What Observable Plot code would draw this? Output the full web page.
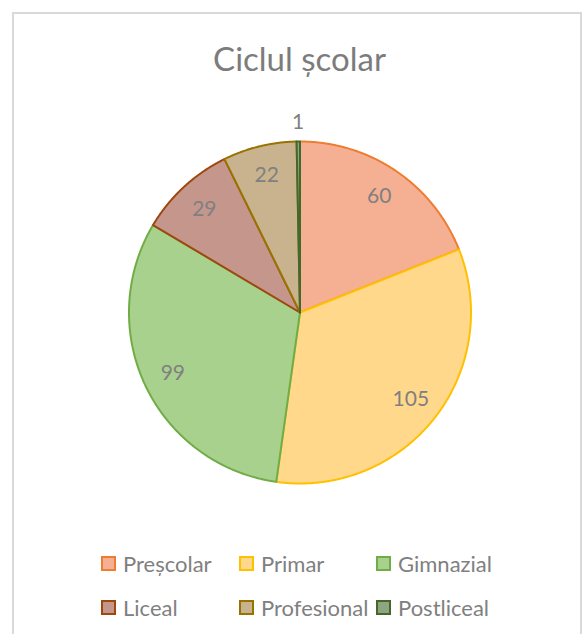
<!DOCTYPE html>
<html>
<head>
<meta charset="utf-8">
<script src="https://cdn.jsdelivr.net/npm/d3@7"></script>
<script src="https://cdn.jsdelivr.net/npm/@observablehq/plot@0.6"></script>
<style>
  html, body { margin: 0; padding: 0; background: #fff; }
  body { width: 583px; height: 634px; position: relative; overflow: hidden; font-family: Lato, "Open Sans", sans-serif; }
  #frame { position: absolute; left: 12px; top: 12px; width: 570px; height: 640px; border: 2px solid #d9d9d9; box-sizing: border-box; }
  #title { position: absolute; left: 0; width: 599px; top: 38px; text-align: center; font-size: 33px; color: #7c7c7c; }
  #chart { position: absolute; left: 0; top: 100px; }
  #legend { position: absolute; left: 0; top: 0; }
  .item { position: absolute; display: flex; align-items: center; font-size: 22px; color: #808080; white-space: nowrap; }
  .sw { width: 11px; height: 11px; border: 2px solid; margin-right: 7px; }
</style>
</head>
<body>
<div id="frame"></div>
<div id="title">Ciclul școlar</div>
<div id="chart"></div>
<div id="legend"></div>
<script>
const categories = ["Preșcolar", "Primar", "Gimnazial", "Liceal", "Profesional", "Postliceal"];
const values = [60, 105, 99, 29, 22, 1];
const fillColors = ["#F5AF93", "#FFD88C", "#A9D18E", "#C5968C", "#C9B38F", "#8FA580"];
const strokeColors = ["#ED7D31", "#FFC000", "#70AD47", "#9E480E", "#997300", "#43682B"];

const W = 583, H = 430;
const cx = 299.5, cy = 212; // pie centre in svg pixels
const R = 171;

const pie = d3.pie().sort(null).value(d => d.value)(
  categories.map((c, i) => ({category: c, value: values[i], fill: fillColors[i], stroke: strokeColors[i]}))
);

const pts = [];
pie.forEach(s => {
  const n = Math.max(2, Math.ceil((s.endAngle - s.startAngle) / 0.005));
  pts.push({category: s.data.category, fill: s.data.fill, stroke: s.data.stroke, x: 0, y: 0});
  for (let k = 0; k <= n; k++) {
    const a = s.startAngle + (s.endAngle - s.startAngle) * k / n;
    pts.push({category: s.data.category, fill: s.data.fill, stroke: s.data.stroke, x: R * Math.sin(a), y: R * Math.cos(a)});
  }
  pts.push({category: s.data.category, fill: s.data.fill, stroke: s.data.stroke, x: 0, y: 0});
});

const total = d3.sum(values);
const labels = pie.map(s => {
  const a = (s.startAngle + s.endAngle) / 2;
  const r = s.data.value / total < 0.02 ? R + 19 : 141;
  return {text: String(s.data.value), x: r * Math.sin(a), y: r * Math.cos(a)};
});

const plot = Plot.plot({
  width: W, height: H,
  margin: 0,
  x: {domain: [-cx, W - cx], axis: null},
  y: {domain: [-(H - cy), cy], axis: null},
  color: {type: "identity"},
  style: {background: "transparent", overflow: "visible"},
  marks: [
    Plot.line(pts, {x: "x", y: "y", z: "category", fill: "fill", stroke: "stroke", strokeWidth: 2, strokeLinejoin: "round", curve: "linear"}),
    Plot.text(labels, {x: "x", y: "y", text: "text", fill: "#808080", fontSize: 21, fontFamily: "Lato, 'Open Sans', sans-serif", textAnchor: "middle", lineAnchor: "middle"})
  ]
});
document.getElementById("chart").appendChild(plot);

const colX = [101, 239, 376];
const rowY = [563, 607];
const legend = document.getElementById("legend");
categories.forEach((c, i) => {
  const el = document.createElement("div");
  el.className = "item";
  el.style.left = colX[i % 3] + "px";
  el.style.top = (rowY[Math.floor(i / 3)] - 14) + "px";
  el.style.height = "28px";
  const sw = document.createElement("span");
  sw.className = "sw";
  sw.style.background = fillColors[i];
  sw.style.borderColor = strokeColors[i];
  el.appendChild(sw);
  el.appendChild(document.createTextNode(c));
  legend.appendChild(el);
});
</script>
</body>
</html>
